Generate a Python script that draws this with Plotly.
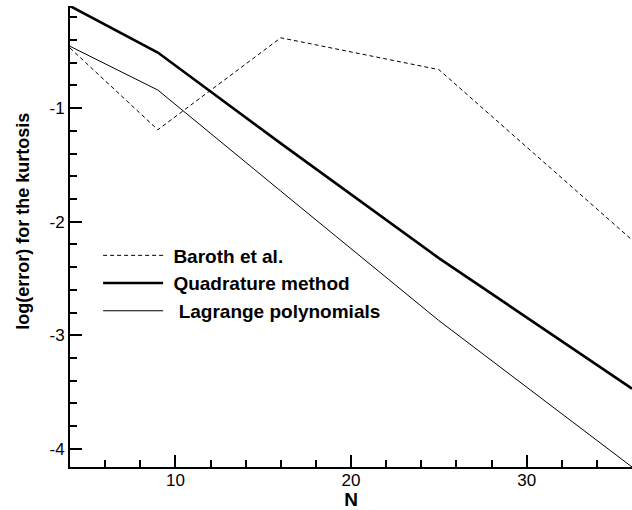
import plotly.graph_objects as go

# Number of points N and log10 of the kurtosis error for each method
n_points = [4, 9, 16, 25, 36]
baroth = [-0.47, -1.19, -0.38, -0.66, -2.16]
quadrature = [-0.10, -0.51, -1.31, -2.32, -3.47]
lagrange = [-0.455, -0.84, -1.73, -2.87, -4.16]

# Axis tick values and labels (plain hyphen as minus sign)
x_tick_vals = [10, 20, 30]
x_tick_text = ["10", "20", "30"]
y_tick_vals = [-4, -3, -2, -1]
y_tick_text = ["-4", "-3", "-2", "-1"]

series = [
    ("\u00a0Baroth et al.", baroth, dict(color="black", width=1, dash="4px,3px")),
    ("\u00a0Quadrature method", quadrature, dict(color="black", width=2.6)),
    ("\u00a0\u00a0Lagrange polynomials", lagrange, dict(color="black", width=1)),
]

fig = go.Figure()
for name, values, line in series:
    fig.add_trace(go.Scatter(x=n_points, y=values, mode="lines", name=name, line=line))

font_family = "Liberation Sans, Arial, Helvetica, sans-serif"

fig.update_layout(
    width=632, height=510,
    margin=dict(l=70, r=0, t=6, b=43),
    paper_bgcolor="white", plot_bgcolor="white",
    font=dict(family=font_family, size=17, color="black"),
    showlegend=True,
    legend=dict(
        x=0.050, y=0.5, xanchor="left", yanchor="top",
        bgcolor="rgba(0,0,0,0)", borderwidth=0,
        font=dict(size=19, weight="bold"),
        itemwidth=60,
    ),
    xaxis=dict(
        range=[4, 36], showgrid=False, zeroline=False,
        showline=True, linecolor="black", linewidth=2,
        ticks="inside", ticklen=12, tickwidth=2, tickcolor="black",
        tickmode="array", tickvals=x_tick_vals, ticktext=x_tick_text,
        ticklabelstandoff=-3,
        minor=dict(dtick=2, tick0=0, ticks="inside", ticklen=7, tickwidth=1.5, tickcolor="black"),
        title=dict(text="N", font=dict(size=19, weight="bold"), standoff=3),
    ),
    yaxis=dict(
        range=[-4.16, -0.1], showgrid=False, zeroline=False,
        showline=True, linecolor="black", linewidth=2,
        ticks="inside", ticklen=12, tickwidth=2, tickcolor="black",
        tickmode="array", tickvals=y_tick_vals, ticktext=y_tick_text,
        minor=dict(dtick=0.2, tick0=0, ticks="inside", ticklen=7, tickwidth=1.5, tickcolor="black"),
    ),
    annotations=[dict(
        text="log(error) for the kurtosis", textangle=-90,
        xref="paper", yref="paper", x=-0.0836, y=0.532,
        xanchor="center", yanchor="middle", showarrow=False,
        font=dict(size=18, weight="bold"),
    )],
)

fig.write_html("out.html")
